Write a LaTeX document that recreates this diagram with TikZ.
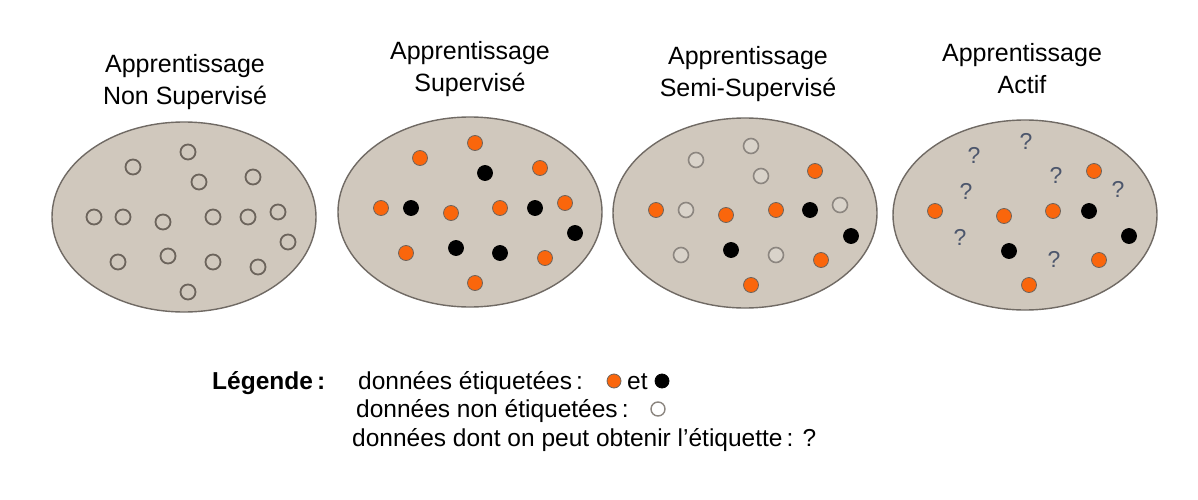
\documentclass[tikz,border=0pt]{standalone}
\usepackage{fontspec}
\setmainfont{Liberation Sans}
\usetikzlibrary{shapes.geometric}
\definecolor{setfill}{RGB}{208,200,189}
\definecolor{setedge}{RGB}{112,106,100}
\definecolor{lorange}{RGB}{250,102,12}
\definecolor{dotedge}{RGB}{110,100,92}
\definecolor{ringc}{RGB}{108,100,92}
\definecolor{ringlight}{RGB}{140,134,128}
\definecolor{qmc}{RGB}{76,86,108}
\tikzset{
  setbox/.style={ellipse, draw=setedge, line width=1.4pt, fill=setfill, minimum width=264pt, minimum height=190pt, inner sep=0pt},
  lab1/.style={circle, fill=lorange, draw=dotedge, line width=0.8pt, minimum size=15pt, inner sep=0pt},
  lab2/.style={circle, fill=black, draw=black, line width=0.8pt, minimum size=15pt, inner sep=0pt},
  unl/.style={circle, draw=ringc, line width=1.8pt, minimum size=15pt, inner sep=0pt},
  unlb/.style={circle, draw=ringlight, fill=setfill!80!white, line width=1.6pt, minimum size=15pt, inner sep=0pt},
  qm/.style={text=qmc, font=\fontsize{23}{26}\selectfont, inner sep=0pt},
  title/.style={align=center, font=\fontsize{25}{32}\selectfont, inner sep=0pt},
  legtxt/.style={anchor=base west, font=\fontsize{24.5}{28}\selectfont, inner sep=0pt}
}
\begin{document}
\begin{tikzpicture}[x=1pt,y=-1pt]
\useasboundingbox[fill=white] (0,0) rectangle (1198,500);

% titles
\node[title] (t1) at (185,82) {Apprentissage\\Non Supervisé};
\node[title] (t2) at (470,69) {Apprentissage\\Supervisé};
\node[title] (t3) at (748,74) {Apprentissage\\Semi-Supervisé};
\node[title] (t4) at (1022,69) {Apprentissage\\Actif};

% sets
\node[setbox] (e1) at (184,217) {};
\node[setbox] (e2) at (470,212) {};
\node[setbox] (e3) at (745,213) {};
\node[setbox] (e4) at (1025,215) {};

% set 1: unlabelled
\foreach \x/\y [count=\i] in {188/152,133/167,199/182,253/177,94/217,123/217,163/222,213/217,248/217,278/212,288/242,118/262,168/256,213/262,258/267,188/292}
  \node[unl] (a\i) at (\x,\y) {};

% set 2: supervised
\foreach \x/\y [count=\i] in {475/143,420/158,540/168,381/208,451/213,500/208,565/203,406/253,545/258,475/283}
  \node[lab1] (bo\i) at (\x,\y) {};
\foreach \x/\y [count=\i] in {485/173,411/208,535/208,575/233,456/248,500/253}
  \node[lab2] (bb\i) at (\x,\y) {};

% set 3: semi-supervised
\foreach \x/\y [count=\i] in {751/146,696/160,761/176,686/210,840/205,681/255,776/255}
  \node[unlb] (cu\i) at (\x,\y) {};
\foreach \x/\y [count=\i] in {815/171,656/210,726/215,776/210,821/260,751/285}
  \node[lab1] (co\i) at (\x,\y) {};
\foreach \x/\y [count=\i] in {810/210,851/236,731/250}
  \node[lab2] (cb\i) at (\x,\y) {};

% set 4: active
\foreach \x/\y [count=\i] in {1026/141,974/155,1056/175,1118/189,966/191,960/237,1054/259}
  \node[qm] (dq\i) at (\x,\y) {?};
\foreach \x/\y [count=\i] in {1094/171,935/211,1004/216,1053/211,1099/260,1029/285}
  \node[lab1] (do\i) at (\x,\y) {};
\foreach \x/\y [count=\i] in {1089/211,1129/236,1009/251}
  \node[lab2] (db\i) at (\x,\y) {};

% legend
\node[legtxt, font=\fontsize{24.5}{28}\selectfont\bfseries] (lg) at (212,389) {Légende\,:};
\node[legtxt] (l1) at (358,389) {données étiquetées\,:};
\node[lab1, minimum size=14pt] (l1o) at (614,381) {};
\node[legtxt] (l1et) at (627,389) {et};
\node[lab2, minimum size=14pt] (l1b) at (662,381) {};
\node[legtxt] (l2) at (356,417) {données non étiquetées\,:};
\node[unl, draw=ringlight, line width=1.4pt, minimum size=14pt] (l2u) at (658,409) {};
\node[legtxt] (l3) at (352,446) {données dont on peut obtenir l'étiquette\,: ?};
\end{tikzpicture}
\end{document}
